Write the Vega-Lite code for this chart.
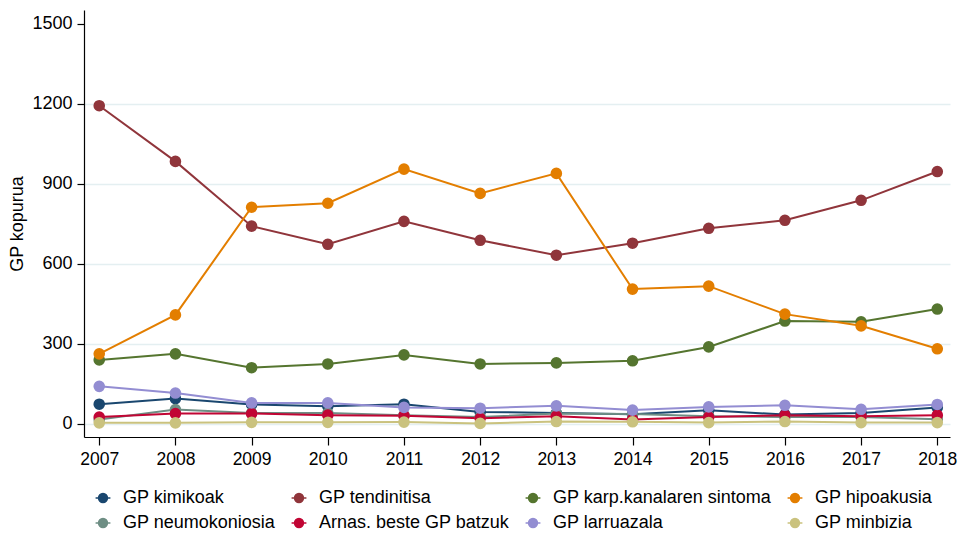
{
  "$schema": "https://vega.github.io/schema/vega-lite/v6.json",
  "width": 866,
  "height": 427,
  "autosize": {"type": "none"},
  "padding": {"left": 84, "top": 10, "right": 9, "bottom": 101},
  "background": "white",
  "config": {
    "view": {"stroke": null},
    "font": "Liberation Sans",
    "axis": {"labelFont": "Liberation Sans", "titleFont": "Liberation Sans", "labelColor": "black", "titleColor": "black", "domainColor": "black", "tickColor": "black"}
  },
  "data": {"values": [
    {"year": 2007, "series": "GP kimikoak", "value": 73},
    {"year": 2008, "series": "GP kimikoak", "value": 94},
    {"year": 2009, "series": "GP kimikoak", "value": 72},
    {"year": 2010, "series": "GP kimikoak", "value": 65},
    {"year": 2011, "series": "GP kimikoak", "value": 73},
    {"year": 2012, "series": "GP kimikoak", "value": 44},
    {"year": 2013, "series": "GP kimikoak", "value": 40},
    {"year": 2014, "series": "GP kimikoak", "value": 35},
    {"year": 2015, "series": "GP kimikoak", "value": 50},
    {"year": 2016, "series": "GP kimikoak", "value": 34},
    {"year": 2017, "series": "GP kimikoak", "value": 40},
    {"year": 2018, "series": "GP kimikoak", "value": 61},
    {"year": 2007, "series": "GP tendinitisa", "value": 1193},
    {"year": 2008, "series": "GP tendinitisa", "value": 984},
    {"year": 2009, "series": "GP tendinitisa", "value": 741},
    {"year": 2010, "series": "GP tendinitisa", "value": 673},
    {"year": 2011, "series": "GP tendinitisa", "value": 759},
    {"year": 2012, "series": "GP tendinitisa", "value": 688},
    {"year": 2013, "series": "GP tendinitisa", "value": 632},
    {"year": 2014, "series": "GP tendinitisa", "value": 677},
    {"year": 2015, "series": "GP tendinitisa", "value": 733},
    {"year": 2016, "series": "GP tendinitisa", "value": 763},
    {"year": 2017, "series": "GP tendinitisa", "value": 838},
    {"year": 2018, "series": "GP tendinitisa", "value": 946},
    {"year": 2007, "series": "GP karp.kanalaren sintoma", "value": 239},
    {"year": 2008, "series": "GP karp.kanalaren sintoma", "value": 262},
    {"year": 2009, "series": "GP karp.kanalaren sintoma", "value": 210},
    {"year": 2010, "series": "GP karp.kanalaren sintoma", "value": 224},
    {"year": 2011, "series": "GP karp.kanalaren sintoma", "value": 258},
    {"year": 2012, "series": "GP karp.kanalaren sintoma", "value": 224},
    {"year": 2013, "series": "GP karp.kanalaren sintoma", "value": 228},
    {"year": 2014, "series": "GP karp.kanalaren sintoma", "value": 236},
    {"year": 2015, "series": "GP karp.kanalaren sintoma", "value": 288},
    {"year": 2016, "series": "GP karp.kanalaren sintoma", "value": 385},
    {"year": 2017, "series": "GP karp.kanalaren sintoma", "value": 382},
    {"year": 2018, "series": "GP karp.kanalaren sintoma", "value": 430},
    {"year": 2007, "series": "GP hipoakusia", "value": 262},
    {"year": 2008, "series": "GP hipoakusia", "value": 408},
    {"year": 2009, "series": "GP hipoakusia", "value": 812},
    {"year": 2010, "series": "GP hipoakusia", "value": 827},
    {"year": 2011, "series": "GP hipoakusia", "value": 955},
    {"year": 2012, "series": "GP hipoakusia", "value": 864},
    {"year": 2013, "series": "GP hipoakusia", "value": 939},
    {"year": 2014, "series": "GP hipoakusia", "value": 505},
    {"year": 2015, "series": "GP hipoakusia", "value": 516},
    {"year": 2016, "series": "GP hipoakusia", "value": 411},
    {"year": 2017, "series": "GP hipoakusia", "value": 367},
    {"year": 2018, "series": "GP hipoakusia", "value": 281},
    {"year": 2007, "series": "GP neumokoniosia", "value": 16},
    {"year": 2008, "series": "GP neumokoniosia", "value": 53},
    {"year": 2009, "series": "GP neumokoniosia", "value": 40},
    {"year": 2010, "series": "GP neumokoniosia", "value": 40},
    {"year": 2011, "series": "GP neumokoniosia", "value": 32},
    {"year": 2012, "series": "GP neumokoniosia", "value": 25},
    {"year": 2013, "series": "GP neumokoniosia", "value": 38},
    {"year": 2014, "series": "GP neumokoniosia", "value": 36},
    {"year": 2015, "series": "GP neumokoniosia", "value": 28},
    {"year": 2016, "series": "GP neumokoniosia", "value": 25},
    {"year": 2017, "series": "GP neumokoniosia", "value": 25},
    {"year": 2018, "series": "GP neumokoniosia", "value": 17},
    {"year": 2007, "series": "Arnas. beste GP batzuk", "value": 25},
    {"year": 2008, "series": "Arnas. beste GP batzuk", "value": 38},
    {"year": 2009, "series": "Arnas. beste GP batzuk", "value": 38},
    {"year": 2010, "series": "Arnas. beste GP batzuk", "value": 32},
    {"year": 2011, "series": "Arnas. beste GP batzuk", "value": 30},
    {"year": 2012, "series": "Arnas. beste GP batzuk", "value": 20},
    {"year": 2013, "series": "Arnas. beste GP batzuk", "value": 28},
    {"year": 2014, "series": "Arnas. beste GP batzuk", "value": 16},
    {"year": 2015, "series": "Arnas. beste GP batzuk", "value": 25},
    {"year": 2016, "series": "Arnas. beste GP batzuk", "value": 32},
    {"year": 2017, "series": "Arnas. beste GP batzuk", "value": 28},
    {"year": 2018, "series": "Arnas. beste GP batzuk", "value": 32},
    {"year": 2007, "series": "GP larruazala", "value": 140},
    {"year": 2008, "series": "GP larruazala", "value": 115},
    {"year": 2009, "series": "GP larruazala", "value": 78},
    {"year": 2010, "series": "GP larruazala", "value": 78},
    {"year": 2011, "series": "GP larruazala", "value": 61},
    {"year": 2012, "series": "GP larruazala", "value": 58},
    {"year": 2013, "series": "GP larruazala", "value": 67},
    {"year": 2014, "series": "GP larruazala", "value": 51},
    {"year": 2015, "series": "GP larruazala", "value": 63},
    {"year": 2016, "series": "GP larruazala", "value": 69},
    {"year": 2017, "series": "GP larruazala", "value": 54},
    {"year": 2018, "series": "GP larruazala", "value": 72},
    {"year": 2007, "series": "GP minbizia", "value": 3},
    {"year": 2008, "series": "GP minbizia", "value": 3},
    {"year": 2009, "series": "GP minbizia", "value": 5},
    {"year": 2010, "series": "GP minbizia", "value": 5},
    {"year": 2011, "series": "GP minbizia", "value": 6},
    {"year": 2012, "series": "GP minbizia", "value": 1},
    {"year": 2013, "series": "GP minbizia", "value": 8},
    {"year": 2014, "series": "GP minbizia", "value": 7},
    {"year": 2015, "series": "GP minbizia", "value": 4},
    {"year": 2016, "series": "GP minbizia", "value": 8},
    {"year": 2017, "series": "GP minbizia", "value": 4},
    {"year": 2018, "series": "GP minbizia", "value": 4}
  ]},
  "encoding": {
    "x": {
      "field": "year", "type": "quantitative",
      "scale": {"domain": [2006.8, 2018.167], "nice": false, "zero": false},
      "axis": {"values": [2007, 2008, 2009, 2010, 2011, 2012, 2013, 2014, 2015, 2016, 2017, 2018], "format": "d", "title": null, "grid": false, "labelFontSize": 17.5, "tickSize": 8, "labelPadding": 5, "domainWidth": 1.2, "tickWidth": 1.2, "labelFlush": false}
    },
    "y": {
      "field": "value", "type": "quantitative",
      "scale": {"domain": [-50, 1552], "nice": false, "zero": false},
      "axis": {"values": [0, 300, 600, 900, 1200, 1500], "format": "d", "title": "GP kopurua", "titleFontSize": 18, "titleFontWeight": "normal", "titlePadding": 5, "labelFontSize": 18, "tickSize": 7, "labelPadding": 5, "domainWidth": 1.2, "tickWidth": 1.2, "grid": true, "gridColor": {"condition": {"test": "datum.value === 1500", "value": "transparent"}, "value": "#e4eff1"}, "gridWidth": 1.6}
    },
    "color": {
      "field": "series", "type": "nominal",
      "scale": {
        "domain": ["GP kimikoak", "GP tendinitisa", "GP karp.kanalaren sintoma", "GP hipoakusia", "GP neumokoniosia", "Arnas. beste GP batzuk", "GP larruazala", "GP minbizia"],
        "range": ["#1a476f", "#90353b", "#55752f", "#e37e00", "#6e8e84", "#c10534", "#938dd2", "#cac27e"]
      },
      "legend": {
        "title": null, "orient": "none", "legendX": 10, "legendY": 479,
        "direction": "horizontal", "columns": 4, "columnPadding": 12, "rowPadding": 7,
        "labelFontSize": 18, "labelFont": "Liberation Sans", "labelColor": "black", "labelOffset": 11, "labelLimit": 0,
        "symbolType": "M-1,0H1M0.6,0A0.6,0.6,0,1,1,-0.6,0A0.6,0.6,0,1,1,0.6,0Z",
        "symbolSize": 220, "symbolStrokeWidth": 1.5, "symbolOpacity": 1,
        "encode": {"symbols": {"update": {"stroke": {"scale": "color", "field": "value"}, "fill": {"scale": "color", "field": "value"}}}}
      }
    }
  },
  "layer": [
    {"mark": {"type": "line", "strokeWidth": 2}},
    {"mark": {"type": "point", "filled": true, "size": 135, "opacity": 1}}
  ]
}
